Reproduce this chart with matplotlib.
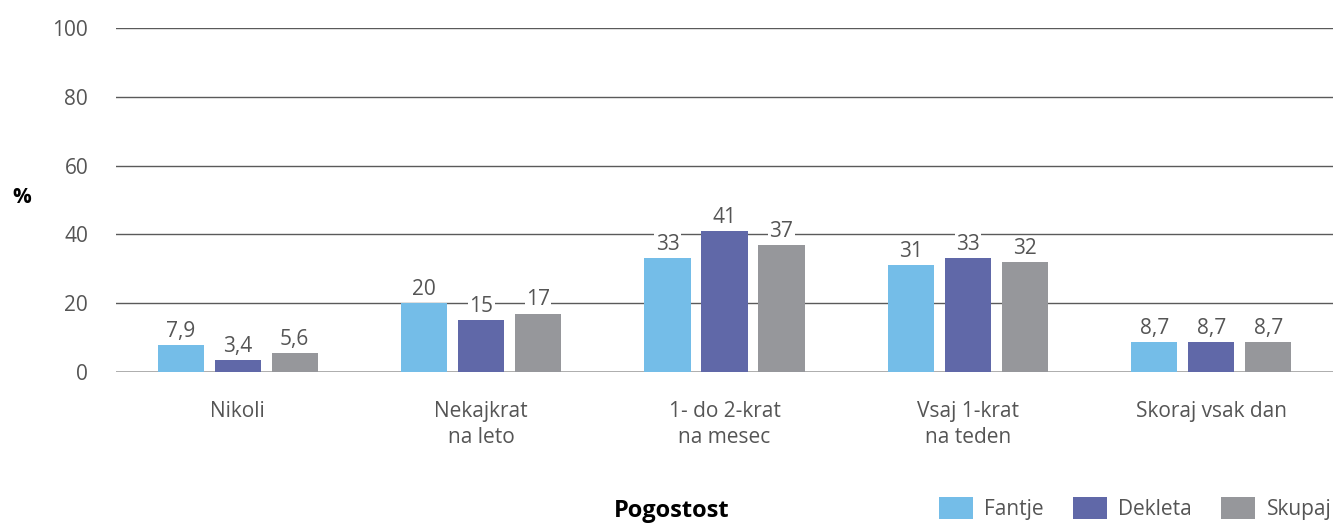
import numpy as np
import matplotlib
matplotlib.use("Agg")
import matplotlib.pyplot as plt
from matplotlib.patches import Patch

categories = ["Nikoli", "Nekajkrat\nna leto", "1- do 2-krat\nna mesec", "Vsaj 1-krat\nna teden", "Skoraj vsak dan"]
fantje = [7.9, 20, 33, 31, 8.7]
dekleta = [3.4, 15, 41, 33, 8.7]
skupaj = [5.6, 17, 37, 32, 8.7]
labels_fantje = ["7,9", "20", "33", "31", "8,7"]
labels_dekleta = ["3,4", "15", "41", "33", "8,7"]
labels_skupaj = ["5,6", "17", "37", "32", "8,7"]
series_names = ["Fantje", "Dekleta", "Skupaj"]
colors = ["#74bde8", "#6068a8", "#96979b"]

plt.rcParams['font.family'] = ['Open Sans', 'DejaVu Sans']

fig = plt.figure(figsize=(13.33, 5.23), dpi=100)
ax = fig.add_axes([0.087, 0.2887, 0.913, 0.6578])

x = np.arange(len(categories))
w = 0.19
step = 0.234
for i, (vals, labs) in enumerate(zip([fantje, dekleta, skupaj], [labels_fantje, labels_dekleta, labels_skupaj])):
    xs = x + (i - 1) * step
    ax.bar(xs, vals, width=w, color=colors[i], zorder=3)
    for xx, v, l in zip(xs, vals, labs):
        # white box so the label cuts through the gridline like in the original
        ax.text(xx, v + 0.9, l, ha="center", va="bottom", fontsize=15, color="#555555",
                zorder=4, bbox=dict(facecolor="white", edgecolor="none", pad=1.0))

ax.set_xlim(-0.5, 4.5)
ax.set_ylim(0, 100)
ax.set_yticks([0, 20, 40, 60, 80, 100])
ax.yaxis.grid(True, color="#5a5a5a", linewidth=1, zorder=0)
ax.axhline(0, color="#aaaaaa", linewidth=2, zorder=2)
for s in ax.spines.values():
    s.set_visible(False)
ax.tick_params(axis="both", length=0, labelsize=15, labelcolor="#555555")
ax.tick_params(axis="y", pad=20)
ax.tick_params(axis="x", pad=21)
ax.set_xticks(x)
ax.set_xticklabels(categories, linespacing=1.3)

fig.text(0.0165, 0.623, "%", fontsize=15, fontweight="bold", ha="center", va="center")
fig.text(0.504, 0.023, "Pogostost", fontsize=17, fontweight="bold", ha="center", va="center")

handles = [Patch(facecolor=c, edgecolor="none") for c in colors]
fig.legend(handles, series_names, loc="lower right", bbox_to_anchor=(1.013, -0.03), ncol=3,
           frameon=False, fontsize=15, handlelength=1.63, handleheight=1.2,
           columnspacing=1.4, handletextpad=0.55, labelcolor="#555555")

fig.savefig("out.png", dpi=100)
